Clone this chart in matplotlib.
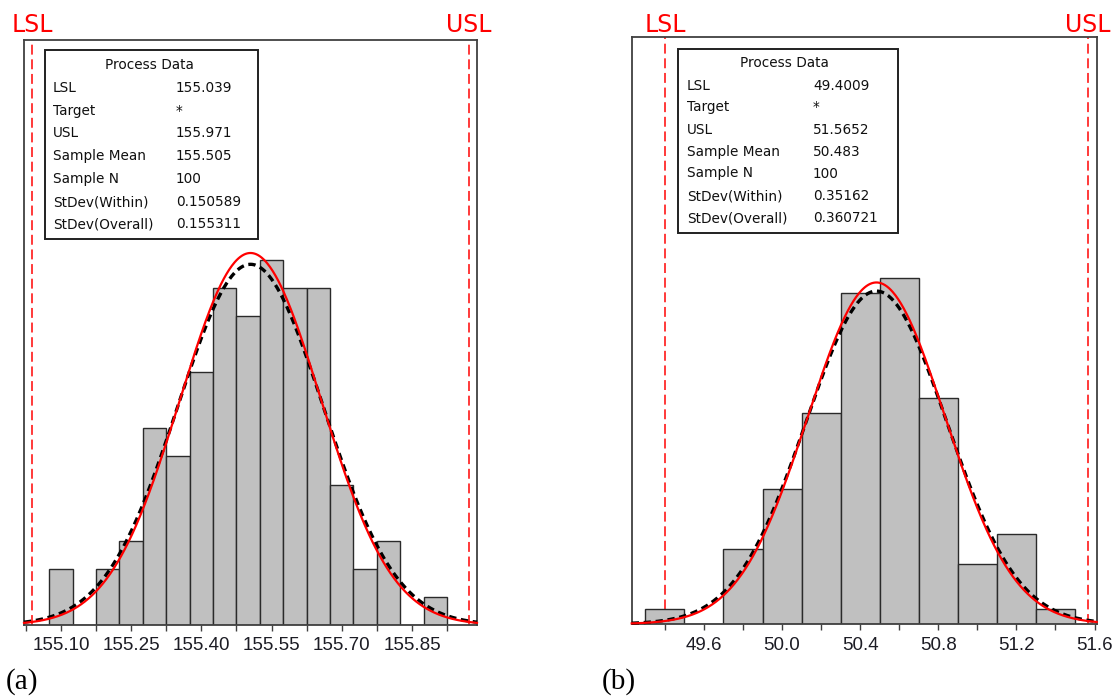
import numpy as np
import matplotlib
matplotlib.use("Agg")
import matplotlib.pyplot as plt
from matplotlib.patches import Rectangle
from matplotlib.transforms import blended_transform_factory
from matplotlib.ticker import FixedLocator, NullFormatter

# ---------------- data ----------------
# panel (a)
a_centers = [155.10, 155.15, 155.20, 155.25, 155.30, 155.35, 155.40, 155.45, 155.50,
             155.55, 155.60, 155.65, 155.70, 155.75, 155.80, 155.85, 155.90]
a_counts = [2, 0, 2, 3, 7, 6, 9, 12, 11, 13, 12, 12, 5, 2, 3, 0, 1]
a_binwidth = 0.05
a_lsl, a_usl = 155.039, 155.971
a_mean, a_n = 155.505, 100
a_sd_within, a_sd_overall = 0.150589, 0.155311
a_major = [155.10, 155.25, 155.40, 155.55, 155.70, 155.85]
a_major_labels = ["155.10", "155.25", "155.40", "155.55", "155.70", "155.85"]
a_minor = [155.025, 155.175, 155.325, 155.475, 155.625, 155.775, 155.925]
a_values_text = ["155.039", "*", "155.971", "155.505", "100", "0.150589", "0.155311"]

# panel (b)
b_centers = [49.4, 49.6, 49.8, 50.0, 50.2, 50.4, 50.6, 50.8, 51.0, 51.2, 51.4]
b_counts = [1, 0, 5, 9, 14, 22, 23, 15, 4, 6, 1]
b_binwidth = 0.2
b_lsl, b_usl = 49.4009, 51.5652
b_mean, b_n = 50.483, 100
b_sd_within, b_sd_overall = 0.35162, 0.360721
b_major = [49.6, 50.0, 50.4, 50.8, 51.2, 51.6]
b_major_labels = ["49.6", "50.0", "50.4", "50.8", "51.2", "51.6"]
b_minor = [49.4, 49.8, 50.2, 50.6, 51.0, 51.4]
b_values_text = ["49.4009", "*", "51.5652", "50.483", "100", "0.35162", "0.360721"]

row_labels = ["LSL", "Target", "USL", "Sample Mean", "Sample N", "StDev(Within)", "StDev(Overall)"]

# ---------------- figure ----------------
W, H = 1119, 698
fig = plt.figure(figsize=(W / 100, H / 100), dpi=100)
fig.patch.set_facecolor("white")


def px_axes(l, t, r, b):
    return fig.add_axes([l / W, 1 - b / H, (r - l) / W, (b - t) / H])


def normal_curve(x, mean, sd, n, bw):
    return n * bw * np.exp(-0.5 * ((x - mean) / sd) ** 2) / (sd * np.sqrt(2 * np.pi))


def panel(ax, centers, counts, bw, lsl, usl, mean, n, sdw, sdo, xlim, ylim,
          major, major_labels, minor, label_offset):
    ax.set_xlim(*xlim)
    ax.set_ylim(*ylim)
    ax.axvline(lsl, color="#ff2a2a", lw=1.3, dashes=(5.5, 2.6), zorder=1)
    ax.axvline(usl, color="#ff2a2a", lw=1.3, dashes=(5.5, 2.6), zorder=1)
    ax.bar(centers, counts, width=bw, color="#c0c0c0", edgecolor="#2a2a2a",
           linewidth=1.0, zorder=2)
    x = np.linspace(xlim[0], xlim[1], 500)
    ax.plot(x, normal_curve(x, mean, sdo, n, bw), color="black", lw=2.4,
            dashes=(2.2, 1.4), zorder=3, clip_on=False)
    ax.plot(x, normal_curve(x, mean, sdw, n, bw), color="#ff0000", lw=1.6,
            zorder=4, clip_on=False)
    ax.xaxis.set_major_locator(FixedLocator(major))
    ax.set_xticklabels(major_labels, fontfamily="Liberation Sans", fontsize=13.5,
                       color="#1c1c24")
    ax.xaxis.set_minor_locator(FixedLocator(minor))
    ax.xaxis.set_minor_formatter(NullFormatter())
    ax.tick_params(axis="x", which="both", direction="out", length=4.5, width=1.0,
                   color="#404040", pad=4.5)
    ax.set_yticks([])
    for s in ax.spines.values():
        s.set_color("#404040")
        s.set_linewidth(1.3)
    trans = blended_transform_factory(ax.transData, ax.transAxes)
    for xv, txt in [(lsl, "LSL"), (usl, "USL")]:
        ax.text(xv, 1 + label_offset, txt, transform=trans, ha="center", va="baseline",
                color="#ff0000", fontsize=17, fontfamily="DejaVu Sans", clip_on=False)


def stats_box(l, t, r, b, title_x, title_y, label_x, value_x, row_ys, values):
    rect = Rectangle((l / W, 1 - b / H), (r - l) / W, (b - t) / H,
                     transform=fig.transFigure, facecolor="white",
                     edgecolor="#202020", linewidth=1.4, zorder=10)
    fig.add_artist(rect)
    kw = dict(fontsize=9.8, fontfamily="DejaVu Sans", color="#101010", zorder=11,
              va="center")
    fig.text(title_x / W, 1 - title_y / H, "Process Data", ha="center", **kw)
    for y, lab, val in zip(row_ys, row_labels, values):
        fig.text(label_x / W, 1 - y / H, lab, ha="left", **kw)
        fig.text(value_x / W, 1 - y / H, val, ha="left", **kw)


ax_a = px_axes(24, 40, 477, 625)
panel(ax_a, a_centers, a_counts, a_binwidth, a_lsl, a_usl, a_mean, a_n,
      a_sd_within, a_sd_overall, (155.021, 155.989), (0, 20.83),
      a_major, a_major_labels, a_minor, 8 / 585)

ax_b = px_axes(631.7, 37.3, 1096.7, 624)
panel(ax_b, b_centers, b_counts, b_binwidth, b_lsl, b_usl, b_mean, b_n,
      b_sd_within, b_sd_overall, (49.230, 51.611), (0, 38.98),
      b_major, b_major_labels, b_minor, 5.3 / 586.7)

stats_box(45, 50, 258, 239, 149, 65, 53, 176,
          [88, 110.5, 133, 156, 179, 202, 224], a_values_text)
stats_box(677.7, 49.3, 897.7, 233.3, 784, 63.3, 686.7, 813,
          [86, 107.5, 130, 152, 173.5, 196, 218], b_values_text)

fig.text(6 / W, 1 - 689 / H, "(a)", fontfamily="Liberation Serif", fontsize=21,
         ha="left", va="baseline", color="black")
fig.text(602 / W, 1 - 689 / H, "(b)", fontfamily="Liberation Serif", fontsize=21,
         ha="left", va="baseline", color="black")

fig.savefig("out.png", dpi=100, facecolor="white")
